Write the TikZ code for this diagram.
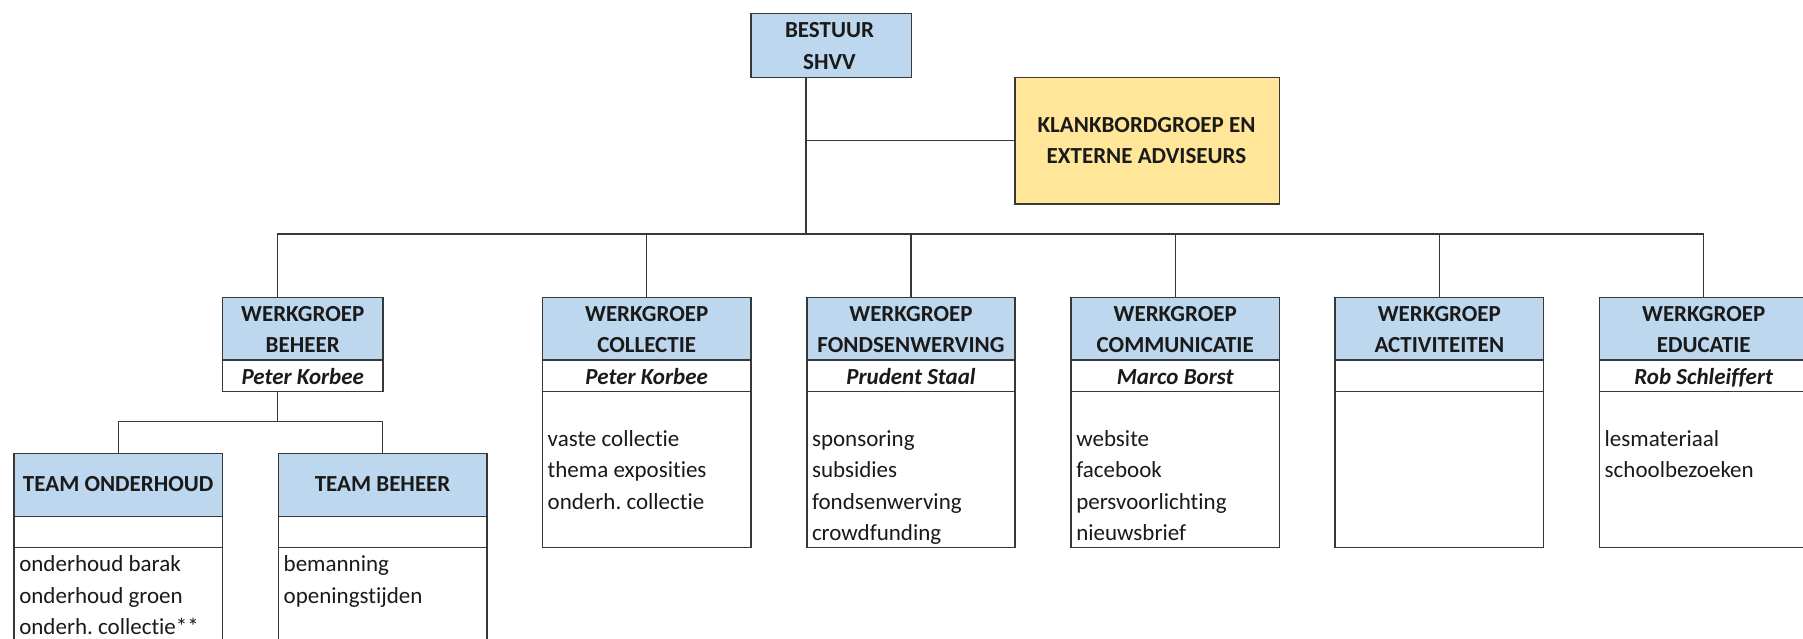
\documentclass[tikz,border=0pt]{standalone}
\usepackage{fontspec}
\setmainfont{Carlito}[Ligatures={NoCommon}]
\frenchspacing
\definecolor{hdrblue}{HTML}{BDD7EE}
\definecolor{kbyellow}{HTML}{FFE699}
\definecolor{ink}{HTML}{1A1A1A}
\tikzset{
  box/.style={draw=black!78, line width=0.75pt, rectangle, inner sep=0pt, anchor=north west},
  conn/.style={draw=black!78, line width=0.65pt},
  hd/.style={font=\fontsize{11.5}{13}\selectfont\bfseries, anchor=base, inner sep=0pt, text=ink},
  nm/.style={font=\fontsize{11.5}{13}\selectfont\bfseries\itshape, anchor=base, inner sep=0pt, text=ink},
  li/.style={font=\fontsize{11.5}{13}\selectfont, anchor=base west, inner sep=0pt, text=ink},
}
% #1 id, #2 left x (px), #3 width, #4 second header line, #5 name
\newcommand\wghead[5]{%
  \node[box, fill=hdrblue, minimum width=#3, minimum height=31.3pt] (#1h) at (#2,296.7) {};
  \node[box, fill=white, minimum width=#3, minimum height=15.7pt] (#1n) at (#2,359.3) {};
  \node[hd] (#1ta) at ([yshift=-12.4pt]#1h.north) {WERKGROEP};
  \node[hd] (#1tb) at ([yshift=-28.05pt]#1h.north) {#4};
  \node[nm] (#1tn) at ([yshift=-12.45pt]#1n.north) {#5};
}
\newcommand\wgframe[5]{%
  \wghead{#1}{#2}{#3}{#4}{#5}
  \node[box, fill=white, minimum width=#3, minimum height=78pt] (#1b) at (#2,390.7) {};
}
% #1 node name, #2 body node, #3 drop below top, #4 text
\newcommand\wgitem[4]{%
  \node[li] (#1) at ([xshift=2.8pt,yshift=-#3]#2.north west) {#4};
}
\begin{document}
\begin{tikzpicture}[x=0.5pt,y=-0.5pt]
\useasboundingbox (0,0) rectangle (1803,638);
\clip (0,0) rectangle (1803,638);
\fill[white] (0,0) rectangle (1803,638);

% top level
\node[box, fill=hdrblue, minimum width=80.35pt, minimum height=32pt] (bestuur) at (750,12.7) {};
\node[hd] (bestuurA) at (829.5,37.9) {BESTUUR};
\node[hd] (bestuurB) at (829.5,69) {SHVV};

\node[box, fill=kbyellow, minimum width=132.2pt, minimum height=63.3pt] (kb) at (1014.3,76.7) {};
\node[hd] (kbA) at (1146.5,132.5) {KLANKBORDGROEP EN};
\node[hd] (kbB) at (1146.5,163.5) {EXTERNE ADVISEURS};

% werkgroepen
\wghead{wb}{221.7}{80.3pt}{BEHEER}{Peter Korbee}
\wgframe{col}{541.7}{104.25pt}{COLLECTIE}{Peter Korbee}
\wgframe{fw}{806}{104.2pt}{FONDSENWERVING}{Prudent Staal}
\wgframe{com}{1070.3}{104.2pt}{COMMUNICATIE}{Marco Borst}
\wgframe{act}{1334.3}{104.3pt}{ACTIVITEITEN}{}
\wgframe{edu}{1598.7}{104.25pt}{EDUCATIE}{Rob Schleiffert}

\wgitem{colA}{colb}{27.9pt}{vaste collectie}
\wgitem{colB}{colb}{43.55pt}{thema exposities}
\wgitem{colC}{colb}{59.2pt}{onderh. collectie}

\wgitem{fwA}{fwb}{27.9pt}{sponsoring}
\wgitem{fwB}{fwb}{43.55pt}{subsidies}
\wgitem{fwC}{fwb}{59.2pt}{fondsenwerving}
\wgitem{fwD}{fwb}{74.85pt}{crowdfunding}

\wgitem{comA}{comb}{27.9pt}{website}
\wgitem{comB}{comb}{43.55pt}{facebook}
\wgitem{comC}{comb}{59.2pt}{persvoorlichting}
\wgitem{comD}{comb}{74.85pt}{nieuwsbrief}

\wgitem{eduA}{edub}{27.9pt}{lesmateriaal}
\wgitem{eduB}{edub}{43.55pt}{schoolbezoeken}

% teams
\node[box, fill=hdrblue, minimum width=104.2pt, minimum height=31.5pt] (toh) at (13.3,452.7) {};
\node[box, fill=white, minimum width=104.2pt, minimum height=15.5pt] (ton) at (13.3,515.7) {};
\node[box, fill=white, minimum width=104.2pt, minimum height=80pt] (tob) at (13.3,546.7) {};
\node[hd] (toT) at ([yshift=-19.5pt]toh.north) {TEAM ONDERHOUD};
\wgitem{toA}{tob}{12.5pt}{onderhoud barak}
\wgitem{toB}{tob}{28.15pt}{onderhoud groen}
\wgitem{toC}{tob}{43.8pt}{onderh. collectie**}

\node[box, fill=hdrblue, minimum width=104.15pt, minimum height=31.5pt] (tbh) at (277.7,452.7) {};
\node[box, fill=white, minimum width=104.15pt, minimum height=15.5pt] (tbn) at (277.7,515.7) {};
\node[box, fill=white, minimum width=104.15pt, minimum height=80pt] (tbb) at (277.7,546.7) {};
\node[hd] (tbT) at ([yshift=-19.5pt]tbh.north) {TEAM BEHEER};
\wgitem{tbA}{tbb}{12.5pt}{bemanning}
\wgitem{tbB}{tbb}{28.15pt}{openingstijden}

% connectors
\coordinate (j0) at (806,234);
\coordinate (jk) at (806,140.7);
\coordinate (barL) at (277.7,234);
\coordinate (sub) at (277.7,421.7);

\draw[conn] (bestuur.south -| j0) -- (j0);
\draw[conn] (jk) -- (kb.west |- jk);
\draw[conn] (wbh.north -| barL) -- (barL) -- (barL -| eduh.north) -- (eduh.north);
\draw[conn] (colh.north) -- (colh.north |- barL);
\draw[conn] (fwh.north) -- (fwh.north |- barL);
\draw[conn] (comh.north) -- (comh.north |- barL);
\draw[conn] (acth.north) -- (acth.north |- barL);

\draw[conn] (wbn.south -| sub) -- (sub);
\draw[conn] (toh.north) -- (toh.north |- sub) -- (tbh.north |- sub) -- (tbh.north);
\end{tikzpicture}
\end{document}
